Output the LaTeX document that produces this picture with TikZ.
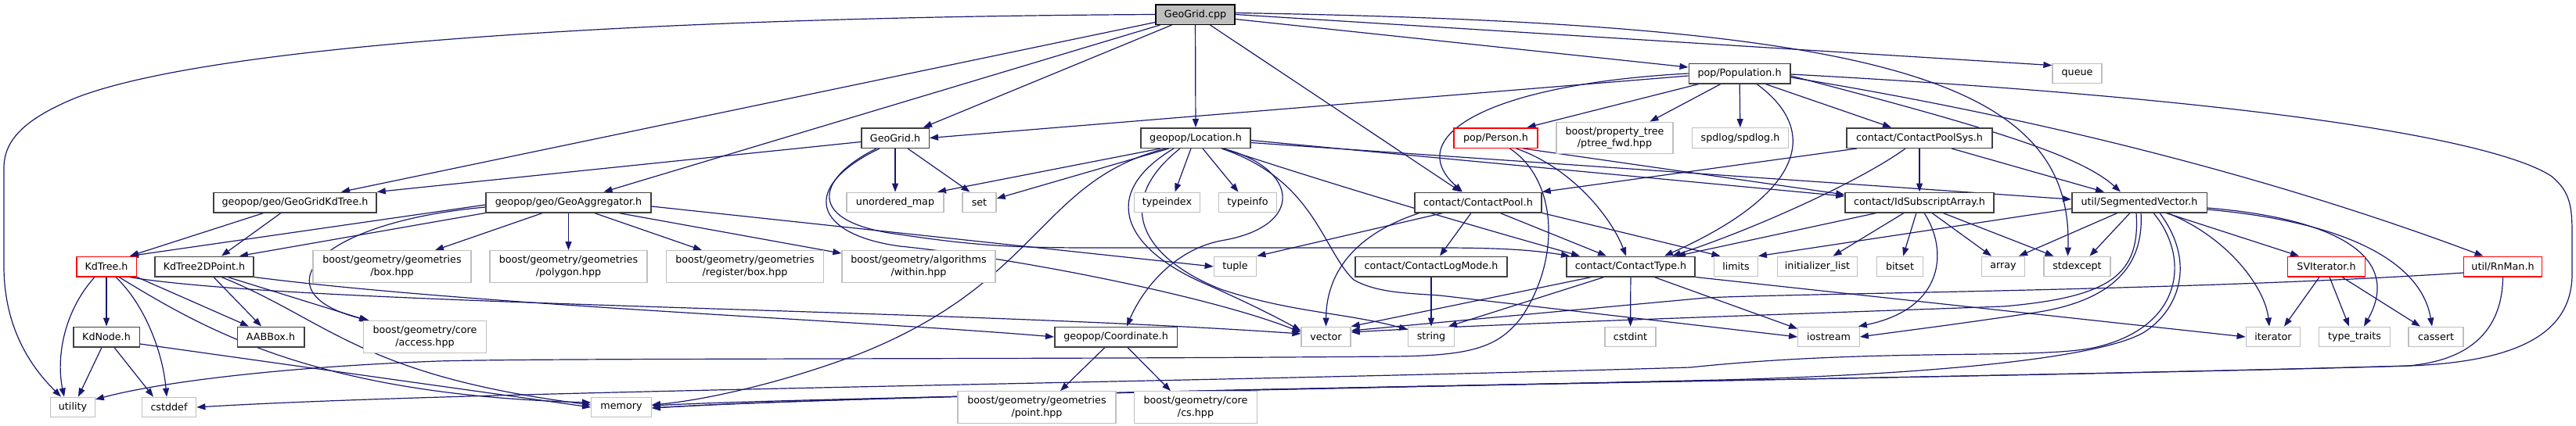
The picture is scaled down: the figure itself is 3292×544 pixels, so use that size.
\documentclass[tikz,border=0pt]{standalone}
\usepackage{fontspec}
\usepackage{tikz}
\usetikzlibrary{arrows.meta, backgrounds}
\newfontfamily\doxface{DejaVu Sans}
\newcommand{\doxfont}{\doxface\fontsize{12.7}{15.5}\selectfont}
\definecolor{edgeBlue}{HTML}{191970}
\definecolor{boxDark}{HTML}{404040}
\definecolor{boxLight}{HTML}{BFBFBF}
\definecolor{boxRed}{HTML}{FF0000}
\definecolor{rootFill}{HTML}{BFBFBF}

\begin{document}
\begin{tikzpicture}[x=1pt, y=-1pt,
  % Styles
  hdr/.style={
    rectangle, draw=boxDark, line width=1.5pt, fill=white,
    minimum width=#1, minimum height=25.5pt, inner sep=0pt,
    font=\doxfont, text=black, align=center
  },
  sys/.style={hdr=#1, draw=boxLight, line width=1.3pt},
  sys2/.style={sys=#1, minimum height=40.5pt},
  redhdr/.style={hdr=#1, draw=boxRed},
  rootbox/.style={hdr=#1, fill=rootFill, draw=black},
  dep/.style={
    draw=edgeBlue, line width=1.2pt, -{Triangle[length=11pt,width=8pt]}
  },
]
\useasboundingbox (0,0) rectangle (3292,544);

% === ROW 0 ===
\node[rootbox=101] (geogridcpp) at (1527.5,18.5) {GeoGrid.cpp};

% === ROW 1 ===
\node[hdr=129.5] (population) at (2223,94) {pop/Population.h};
\node[sys=63] (queue) at (2654.5,94) {queue};

% === ROW 2 ===
\node[hdr=86.5] (geogridh) at (1144,176.5) {GeoGrid.h};
\node[hdr=140] (location) at (1528,176.5) {geopop/Location.h};
\node[redhdr=107] (person) at (1911.5,176.5) {pop/Person.h};
\node[sys2=149] (ptreefwd) at (2063.5,176.5) {boost/property\_tree\\/ptree\_fwd.hpp};
\node[sys=122.5] (spdlog) at (2224,176.5) {spdlog/spdlog.h};
\node[hdr=186] (poolsys) at (2453,176.5) {contact/ContactPoolSys.h};

% === ROW 3 ===
\node[hdr=208] (kdtreegrid) at (377,259) {geopop/geo/GeoGridKdTree.h};
\node[hdr=211] (aggregator) at (726.5,259) {geopop/geo/GeoAggregator.h};
\node[sys=124] (unorderedmap) at (1144,259) {unordered\_map};
\node[sys=43] (setinc) at (1251.5,259) {set};
\node[sys=84] (typeindex) at (1491.5,259) {typeindex};
\node[sys=73.5] (typeinfo) at (1594.5,259) {typeinfo};
\node[hdr=162] (contactpool) at (1889,259) {contact/ContactPool.h};
\node[hdr=190] (idsubscript) at (2453,259) {contact/IdSubscriptArray.h};
\node[hdr=172.5] (segvector) at (2734,259) {util/SegmentedVector.h};

% === ROW 4 ===
\node[redhdr=76.5] (kdtree) at (136,341) {KdTree.h};
\node[hdr=126] (kdtreepoint) at (261,341) {KdTree2DPoint.h};
\node[sys2=202] (geombox) at (501,341) {boost/geometry/geometries\\/box.hpp};
\node[sys2=201] (geompolygon) at (726.5,341) {boost/geometry/geometries\\/polygon.hpp};
\node[sys2=201.5] (geomregbox) at (952,341) {boost/geometry/geometries\\/register/box.hpp};
\node[sys2=196] (geomwithin) at (1174,341) {boost/geometry/algorithms\\/within.hpp};
\node[sys=54.5] (tuple) at (1578.5,341) {tuple};
\node[hdr=194] (logmode) at (1829,341) {contact/ContactLogMode.h};
\node[hdr=164] (contacttype) at (2084,341) {contact/ContactType.h};
\node[sys=55.5] (limits) at (2218.5,341) {limits};
\node[sys=102.5] (initlist) at (2322.5,341) {initializer\_list};
\node[sys=58.5] (bitset) at (2428,341) {bitset};
\node[sys=54.5] (array) at (2560,341) {array};
\node[sys=85] (stdexcept) at (2654.5,341) {stdexcept};
\node[redhdr=99] (sviterator) at (2973,341) {SVIterator.h};
\node[redhdr=100] (rnman) at (3198.5,341) {util/RnMan.h};

% === ROW 5 ===
\node[hdr=84.5] (kdnode) at (136,431) {KdNode.h};
\node[hdr=85.5] (aabbox) at (346,431) {AABBox.h};
\node[sys2=157] (geomaccess) at (543,431) {boost/geometry/core\\/access.hpp};
\node[hdr=156.5] (coordinate) at (1426,431) {geopop/Coordinate.h};
\node[sys=63] (vector) at (1694.5,431) {vector};
\node[sys=58.5] (string) at (1829,431) {string};
\node[sys=65] (cstdint) at (2083.5,431) {cstdint};
\node[sys=78.5] (iostream) at (2337,431) {iostream};
\node[sys=69.5] (iterator) at (2905,431) {iterator};
\node[sys=90.5] (typetraits) at (3009,431) {type\_traits};
\node[sys=70] (cassert) at (3113,431) {cassert};

% === ROW 6 ===
\node[sys=56.5] (utility) at (93,521) {utility};
\node[sys=69.5] (cstddef) at (216,521) {cstddef};
\node[sys=76.5] (memory) at (794,521) {memory};
\node[sys2=202] (geompoint) at (1325,521) {boost/geometry/geometries\\/point.hpp};
\node[sys2=156.5] (geomcs) at (1528,521) {boost/geometry/core\\/cs.hpp};

\begin{scope}[on background layer]
% === GeoGrid.cpp ===
\draw[dep] (geogridcpp.west) .. controls (800,22) and (250,60) .. (90,128)
  .. controls (30,154) and (5,180) .. (5,215) -- (5,340)
  .. controls (5,420) and (40,470) .. ([xshift=-15]utility.north);
\draw[dep] ([yshift=-10]geogridcpp.west) -- ([xshift=59]kdtreegrid.north);
\draw[dep] ([xshift=-45]geogridcpp.south) -- ([xshift=45]aggregator.north);
\draw[dep] ([xshift=-30]geogridcpp.south) -- ([xshift=36]geogridh.north);
\draw[dep] (geogridcpp) -- (location);
\draw[dep] ([xshift=19]geogridcpp.south) -- ([xshift=-22]contactpool.north);
\draw[dep] ([yshift=-6]geogridcpp.east) -- ([yshift=8]population.west);
\draw[dep] (geogridcpp.east) -- ([yshift=-3]queue.north west);
\draw[dep] ([yshift=2]geogridcpp.east) .. controls (2400,30) and (2650,100) .. ([xshift=-12]stdexcept.north);

% === GeoGrid.h ===
\draw[dep] ([yshift=-5]geogridh.west) -- (kdtreegrid.north east);
\draw[dep] (geogridh) -- (unorderedmap);
\draw[dep] ([xshift=16]geogridh.south) -- ([xshift=-12]setinc.north);
\draw[dep] ([xshift=-24]geogridh.south) .. controls (1040,230) and (1030,285) .. (1150,300)
  .. controls (1250,315) and (1300,317) .. (1400,317) -- (1840,317)
  .. controls (1920,317) and (1960,320) .. ([xshift=-78]contacttype.north);
\draw[dep] ([xshift=-20]geogridh.south) .. controls (1020,240) and (1040,300) .. (1150,315)
  .. controls (1300,330) and (1550,380) .. ([yshift=6]vector.west);

% === GeoAggregator.h ===
\draw[dep] ([yshift=-3]aggregator.west) -- ([xshift=30]kdtree.north);
\draw[dep] (aggregator.south west) -- ([xshift=45]kdtreepoint.north);
\draw[dep] ([yshift=-6]aggregator.west) .. controls (400,285) and (330,375) .. ([xshift=8]geomaccess.north west);
\draw[dep] ([xshift=-33]aggregator.south) -- ([xshift=55]geombox.north);
\draw[dep] (aggregator) -- (geompolygon);
\draw[dep] ([xshift=33]aggregator.south) -- ([xshift=-55]geomregbox.north);
\draw[dep] ([xshift=64]aggregator.south) -- ([yshift=-4]geomwithin.north west);
\draw[dep] ([yshift=-5]aggregator.east) -- (tuple.west);

% === GeoGridKdTree.h ===
\draw[dep] ([xshift=-40]kdtreegrid.south) -- ([xshift=30]kdtree.north);
\draw[dep] ([xshift=-18]kdtreegrid.south) -- ([xshift=22]kdtreepoint.north);

% === KdTree.h ===
\draw[dep] (kdtree) -- (kdnode);
\draw[dep] ([xshift=-15]kdtree.south) .. controls (80,400) and (72,460) .. ([xshift=-11]utility.north);
\draw[dep] ([xshift=12]kdtree.south) .. controls (185,390) and (208,450) .. ([xshift=-3]cstddef.north);
\draw[dep] (kdtree.south east) -- ([xshift=-28]aabbox.north);
\draw[dep] ([xshift=16]kdtree.south) .. controls (260,420) and (400,505) .. ([yshift=6]memory.west);
\draw[dep] ([xshift=-10]kdtree.south east) .. controls (380,390) and (1200,395) .. ([yshift=4]vector.west);

% === KdTree2DPoint.h ===
\draw[dep] ([xshift=12]kdtreepoint.south) -- ([xshift=-12]aabbox.north);
\draw[dep] ([xshift=30]kdtreepoint.south) -- ([xshift=-73]geomaccess.north);
\draw[dep] ([xshift=22]kdtreepoint.south) .. controls (420,410) and (460,480) .. ([yshift=3]memory.west);
\draw[dep] (kdtreepoint.south east) .. controls (600,390) and (1100,410) .. (coordinate.west);

% === KdNode.h ===
\draw[dep] ([xshift=-6]kdnode.south) -- ([xshift=7]utility.north);
\draw[dep] ([xshift=10]kdnode.south) -- ([xshift=-20]cstddef.north);
\draw[dep] ([yshift=-9]kdnode.east) -- (memory.west);

% === Location.h ===
\draw[dep] ([xshift=-45]location.south) -- ([xshift=54]unorderedmap.north);
\draw[dep] ([xshift=-34]location.south) -- ([yshift=5]setinc.east);
\draw[dep] ([xshift=-6]location.south) -- ([xshift=10]typeindex.north);
\draw[dep] ([xshift=9]location.south) -- ([xshift=-12]typeinfo.north);
\draw[dep] ([xshift=35]location.south) .. controls (1660,215) and (1670,290) .. (1560,308)
  .. controls (1500,320) and (1460,370) .. ([xshift=14]coordinate.north);
\draw[dep] ([xshift=-38]location.south) .. controls (1330,230) and (1330,360) .. (1100,452)
  .. controls (1000,490) and (900,512) .. ([yshift=3]memory.east);
\draw[dep] ([xshift=-28]location.south) .. controls (1400,250) and (1440,320) .. (1540,363)
  .. controls (1590,385) and (1630,405) .. ([yshift=8]vector.west);
\draw[dep] ([xshift=-20]location.south) .. controls (1420,260) and (1460,330) .. (1560,370)
  .. controls (1650,400) and (1720,400) .. ([yshift=-4]string.north west);
\draw[dep] ([xshift=35]location.south) .. controls (1700,235) and (1850,280) .. ([xshift=-65]contacttype.north);
\draw[dep] ([xshift=33]location.south) .. controls (1680,230) and (1690,320) .. (1730,358)
  .. controls (1760,375) and (1800,375) .. (1840,378) -- (iostream.west);
\draw[dep] ([yshift=-3]location.east) -- ([yshift=8]idsubscript.west);
\draw[dep] ([yshift=-6]location.east) -- ([yshift=4]segvector.west);

% === Person.h ===
\draw[dep] ([xshift=26]person.south) .. controls (2010,215) and (2060,280) .. ([xshift=-6]contacttype.north);
\draw[dep] ([xshift=18]person.south) .. controls (1990,230) and (1995,330) .. (1945,405)
  .. controls (1915,445) and (1880,455) .. (1780,456)
  .. controls (1300,460) and (700,458) .. (560,462)
  .. controls (350,470) and (200,490) .. ([yshift=10]utility.east);
\draw[dep] ([xshift=35]person.south) -- ([yshift=10]idsubscript.west);

% === Population.h ===
\draw[dep] ([yshift=-3]population.west) -- (geogridh.east);
\draw[dep] ([xshift=-52]population.south) -- ([xshift=40]person.north);
\draw[dep] ([xshift=-24]population.south) -- ([xshift=45]ptreefwd.north);
\draw[dep] (population) -- (spdlog);
\draw[dep] ([xshift=33]population.south) -- ([xshift=-36]poolsys.north);
\draw[dep] (population.west) .. controls (1900,108) and (1790,175) .. ([xshift=-20]contactpool.north);
\draw[dep] ([xshift=22]population.south) .. controls (2330,170) and (2300,250) .. ([xshift=43]contacttype.north);
\draw[dep] ([yshift=-3]population.east) .. controls (2550,165) and (2660,200) .. ([xshift=-24]segvector.north);
\draw[dep] ([yshift=-5]population.east) .. controls (2600,150) and (2900,225) .. ([xshift=-25]rnman.north);
\draw[dep] ([yshift=-1]population.east) .. controls (2900,128) and (3190,180) .. (3260,225)
  .. controls (3285,245) and (3287,265) .. (3287,300) -- (3287,350)
  .. controls (3287,420) and (3230,462) .. (3080,468)
  .. controls (2500,485) and (1200,500) .. ([yshift=-1]memory.east);

% === ContactPoolSys.h ===
\draw[dep] ([xshift=-80]poolsys.south) -- (contactpool.north east);
\draw[dep] (poolsys) -- (idsubscript);
\draw[dep] ([xshift=-18]poolsys.south) .. controls (2380,230) and (2250,290) .. ([xshift=53]contacttype.north);
\draw[dep] ([xshift=41]poolsys.south) -- ([xshift=-45]segvector.north);

% === IdSubscriptArray.h ===
\draw[dep] ([xshift=-55]idsubscript.south) -- ([xshift=59]contacttype.north);
\draw[dep] ([xshift=-20]idsubscript.south) -- ([xshift=20]initlist.north);
\draw[dep] (idsubscript) -- (bitset);
\draw[dep] ([xshift=16]idsubscript.south) -- ([xshift=-15]array.north);
\draw[dep] ([xshift=30]idsubscript.south) -- ([xshift=-30]stdexcept.north);
\draw[dep] ([xshift=6]idsubscript.south) .. controls (2490,320) and (2485,395) .. ([xshift=-2]iostream.north east);

% === SegmentedVector.h ===
\draw[dep] ([yshift=-8]segvector.west) -- (limits.north east);
\draw[dep] ([xshift=-28]segvector.south) -- ([xshift=20]array.north);
\draw[dep] ([xshift=-12]segvector.south) -- ([xshift=16]stdexcept.north);
\draw[dep] ([xshift=2]segvector.south) .. controls (2740,340) and (2700,385) .. (2600,400)
  .. controls (2500,415) and (2420,425) .. (iostream.east);
\draw[dep] ([xshift=-4]segvector.south) .. controls (2735,350) and (2700,380) .. (2560,392)
  .. controls (2200,405) and (1900,415) .. ([yshift=6]vector.east);
\draw[dep] ([xshift=18]segvector.south) .. controls (2800,330) and (2790,420) .. (2675,445)
  .. controls (2600,460) and (2400,445) .. (2160,470)
  .. controls (1500,490) and (600,500) .. (cstddef.east);
\draw[dep] ([xshift=26]segvector.south) .. controls (2810,340) and (2780,400) .. (2740,425)
  .. controls (2690,455) and (2500,478) .. (2200,486)
  .. controls (1600,500) and (1000,510) .. ([yshift=2]memory.east);
\draw[dep] ([xshift=34]segvector.south) -- ([xshift=-35]sviterator.north);
\draw[dep] ([xshift=36]segvector.south) .. controls (2850,305) and (2895,370) .. ([xshift=-5]iterator.north);
\draw[dep] ([yshift=-7]segvector.east) .. controls (2990,280) and (3070,330) .. ([xshift=12]typetraits.north);
\draw[dep] ([yshift=-9]segvector.east) .. controls (3010,285) and (3095,340) .. ([xshift=-5]cassert.north);

% === SVIterator.h ===
\draw[dep] ([xshift=-9]sviterator.south) -- ([xshift=14]iterator.north);
\draw[dep] ([xshift=4]sviterator.south) -- ([xshift=-7]typetraits.north);
\draw[dep] ([xshift=20]sviterator.south) -- ([xshift=-20]cassert.north);

% === RnMan.h ===
\draw[dep] ([yshift=-8]rnman.west) .. controls (2800,372) and (2300,375) .. (2180,381) -- ([yshift=8]vector.east);
\draw[dep] (rnman.south) .. controls (3198,410) and (3170,460) .. (3077,468)
  .. controls (2500,485) and (1200,500) .. ([yshift=-1]memory.east);

% === ContactPool.h ===
\draw[dep] ([xshift=-9]contactpool.south) -- ([xshift=11]logmode.north);
\draw[dep] ([xshift=28]contactpool.south) -- ([xshift=-31]contacttype.north);
\draw[dep] (contactpool.south east) -- ([xshift=-20]limits.north);
\draw[dep] ([xshift=-45]contactpool.south) -- (tuple.north east);
\draw[dep] ([xshift=-75]contactpool.south) .. controls (1730,300) and (1695,350) .. (vector.north);

% === ContactLogMode.h / ContactType.h ===
\draw[dep] (logmode) -- (string);
\draw[dep] (contacttype) -- (cstdint);
\draw[dep] ([xshift=-34]contacttype.south) -- ([xshift=22]string.north);
\draw[dep] ([xshift=-50]contacttype.south) -- (vector.north east);
\draw[dep] ([xshift=30]contacttype.south) -- ([yshift=-3]iostream.north west);
\draw[dep] (contacttype.south east) -- (iterator.west);

% === Coordinate.h ===
\draw[dep] ([xshift=-14]coordinate.south) -- ([xshift=30]geompoint.north);
\draw[dep] ([xshift=15]coordinate.south) -- ([xshift=-32]geomcs.north);
\end{scope}

\end{tikzpicture}
\end{document}
